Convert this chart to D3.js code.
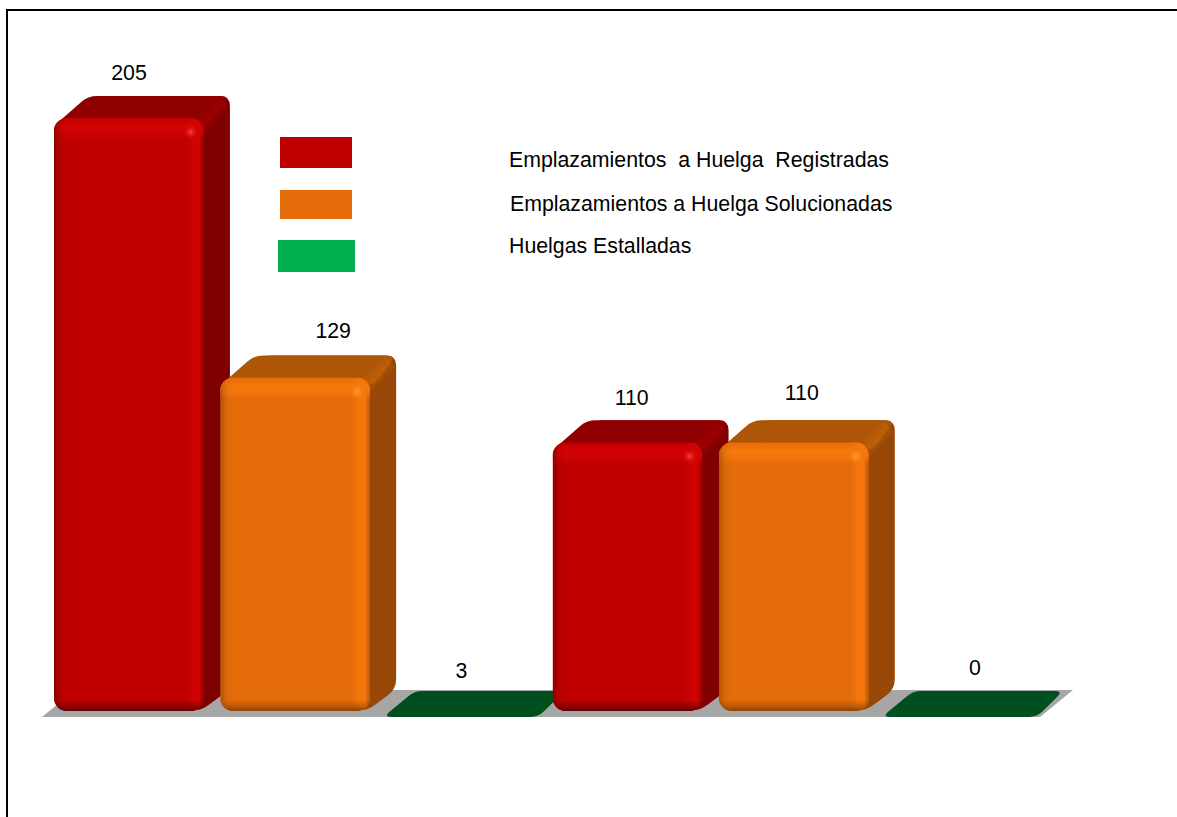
<!DOCTYPE html>
<html>
<head>
<meta charset="utf-8">
<script src="https://cdn.jsdelivr.net/npm/d3@7"></script>
<style>
  html, body { margin: 0; padding: 0; background: #fff; overflow: hidden; }
  svg { display: block; }
  text { font-family: "Liberation Sans", Arial, sans-serif; fill: #000; }
</style>
</head>
<body>
<svg id="chart" width="1177" height="817"></svg>
<script>
// Chart data
const seriesNames = [
  'Emplazamientos  a Huelga  Registradas',
  'Emplazamientos a Huelga Solucionadas',
  'Huelgas Estalladas'
];
const barSeries = [0, 1, 2, 0, 1, 2];
const barValues = [205, 129, 3, 110, 110, 0];

// Colours per series: legend/front, side, top, highlight, bottom edge
const frontColors = ['#c00000', '#e46c0a', '#00b050'];
const sideColors = ['#7f0000', '#974706', '#00501f'];
const topColors = ['#900000', '#ae5607', '#00501f'];
const lightColors = ['#d20303', '#f7780c', '#00b050'];
const darkColors = ['#5c0000', '#8a4305', '#00501f'];

// The labels were moved by hand in the original
const labelNudgeX = [0, 38, 0, 4, 8, 15];
const labelNudgeY = [-22, -23, 0, -21, -26, 0];

const width = 1177, height = 817;
const depthX = 26, depthY = 22;
const floorFront = 717, floorBack = 690;
const barBottom = 711;

const svg = d3.select('#chart');
const defs = svg.append('defs');

// The value axis of the original does not start at zero, small bars flatten out
const x = d3.scaleBand().domain(d3.range(barValues.length)).range([54, 1035]).paddingInner(0.098);
const y = d3.scaleLinear().domain([31.3, 205]).range([barBottom, 118]).clamp(true);

// Frame, open on the right and at the bottom
svg.append('path')
  .attr('d', `M7,${height}V10H${width}`)
  .attr('fill', 'none')
  .attr('stroke', '#000')
  .attr('stroke-width', 2);

// Gradients for the bevels of each series
frontColors.forEach((c, i) => {
  const grad = (id, x2, y2, stops) => {
    const g = defs.append('linearGradient').attr('id', id + i)
      .attr('x1', 0).attr('y1', 0).attr('x2', x2).attr('y2', y2);
    stops.forEach(s => g.append('stop').attr('offset', s[0]).attr('stop-color', s[1]).attr('stop-opacity', s[2]));
  };
  grad('bevelTop', 0, 1, [[0, lightColors[i], 0], [0.4, lightColors[i], 1], [0.65, lightColors[i], 0.8], [1, lightColors[i], 0]]);
  grad('bevelLeft', 1, 0, [[0, darkColors[i], 0.55], [0.5, darkColors[i], 0.12], [1, darkColors[i], 0]]);
  grad('bevelBottom', 0, 1, [[0, darkColors[i], 0], [0.6, darkColors[i], 0.5], [1, darkColors[i], 1]]);
  grad('bevelRight', 1, 0, [[0, lightColors[i], 0], [0.45, lightColors[i], 0.9], [0.75, lightColors[i], 0.8], [1, darkColors[i], 0.35]]);
  grad('cornerSide', 1, 1, [[0, sideColors[i], 0], [0.5, lightColors[i], 0.2], [1, sideColors[i], 0]]);
  const spot = defs.append('radialGradient').attr('id', 'spot' + i);
  spot.append('stop').attr('offset', 0).attr('stop-color', i === 0 ? '#ff3c3c' : '#ffa030').attr('stop-opacity', 1);
  spot.append('stop').attr('offset', 1).attr('stop-color', lightColors[i]).attr('stop-opacity', 0);
});

// Gray floor
const floorLeft = x(0) - 12;
const floorRight = x(5) + x.bandwidth() + 5;
svg.append('path')
  .attr('d', `M${floorLeft},${floorFront}L${floorLeft + 33},${floorBack}H${floorRight + 33}L${floorRight},${floorFront}Z`)
  .attr('fill', '#a6a6a6');

function roundedPoly(pts, r) {
  // closed path through pts with corners cut by quadratic curves
  const n = pts.length;
  let d = '';
  pts.forEach((p, i) => {
    const a = pts[(i + n - 1) % n], b = pts[(i + 1) % n];
    const la = Math.hypot(a[0] - p[0], a[1] - p[1]), lb = Math.hypot(b[0] - p[0], b[1] - p[1]);
    const ra = Math.min(r, la / 2), rb = Math.min(r, lb / 2);
    const s = [p[0] + (a[0] - p[0]) * ra / la, p[1] + (a[1] - p[1]) * ra / la];
    const e = [p[0] + (b[0] - p[0]) * rb / lb, p[1] + (b[1] - p[1]) * rb / lb];
    d += (i === 0 ? 'M' : 'L') + s[0] + ',' + s[1] + 'Q' + p[0] + ',' + p[1] + ' ' + e[0] + ',' + e[1];
  });
  return d + 'Z';
}

function barHeight(v) {
  return barBottom - y(v);
}

const bars = svg.selectAll('g.bar')
  .data(barValues.map((v, i) => ({ v, i, s: barSeries[i] })))
  .enter()
  .append('g')
  .attr('class', 'bar');

bars.each(function (d) {
  const g = d3.select(this);
  const x0 = x(d.i), w = x.bandwidth(), x1 = x0 + w;
  const top = y(d.v);
  const s = d.s;

  if (barHeight(d.v) === 0) {
    // Flat bar, only a green slab lying on the floor
    g.append('path')
      .attr('d', roundedPoly([[x0 - 3, floorFront], [x0 + 28, floorBack + 1], [x1 + 28, floorBack + 1], [x1 + 2, floorFront]], 8))
      .attr('fill', sideColors[s]);
    return;
  }

  // Side and back, kept behind the front face so its round corners stay clean
  g.append('path')
    .attr('d', roundedPoly([[x0 + 40, barBottom - 4], [x0 + 40, top - depthY], [x1 + depthX, top - depthY],
      [x1 + depthX, barBottom - depthY], [x1 - 2, barBottom - 1], [x1 - 14, barBottom - 1]], 10))
    .attr('fill', sideColors[s]);

  // Top face
  g.append('path')
    .attr('d', roundedPoly([[x0, top + 8], [x0 + depthX + 8, top - depthY], [x1 + depthX, top - depthY], [x1 + 4, top + 8]], 9))
    .attr('fill', topColors[s]);

  // Lighter seam running back from the front corner
  g.append('path')
    .attr('d', `M${x1 - 8},${top + 2}L${x1 + 15},${top - depthY + 1}L${x1 + depthX - 1},${top - depthY + 12}L${x1 + 2},${top + 14}Z`)
    .attr('fill', `url(#cornerSide${s})`);

  // Front face with bevels
  const clipId = 'clip' + d.i;
  g.append('clipPath').attr('id', clipId).append('rect')
    .attr('x', x0).attr('y', top).attr('width', w).attr('height', barBottom - top).attr('rx', 13);
  const front = g.append('g').attr('clip-path', `url(#${clipId})`);
  front.append('rect').attr('x', x0).attr('y', top).attr('width', w).attr('height', barBottom - top)
    .attr('fill', frontColors[s]);
  front.append('rect').attr('x', x1 - 18).attr('y', top).attr('width', 18).attr('height', barBottom - top)
    .attr('fill', `url(#bevelRight${s})`);
  front.append('rect').attr('x', x0).attr('y', top).attr('width', w).attr('height', 22)
    .attr('fill', `url(#bevelTop${s})`);
  front.append('rect').attr('x', x0).attr('y', top).attr('width', 12).attr('height', barBottom - top)
    .attr('fill', `url(#bevelLeft${s})`);
  front.append('rect').attr('x', x0).attr('y', barBottom - 11).attr('width', w).attr('height', 11)
    .attr('fill', `url(#bevelBottom${s})`);
  front.append('circle').attr('cx', x1 - 13).attr('cy', top + 14).attr('r', 8)
    .attr('fill', `url(#spot${s})`);
});

// Value labels
svg.selectAll('text.value')
  .data(barValues)
  .enter()
  .append('text')
  .attr('class', 'value')
  .attr('x', (d, i) => x(i) + x.bandwidth() / 2 + labelNudgeX[i])
  .attr('y', (d, i) => barHeight(d) === 0 ? (i === 2 ? 678 : 675) : y(d) - depthY + labelNudgeY[i] + 6)
  .attr('text-anchor', 'middle')
  .attr('font-size', 21.3)
  .text(d => d);

// Legend, the original keys are hand placed and slightly different in size
const legendKeyX = d3.scaleOrdinal().domain([0, 1, 2]).range([280, 280, 278]);
const legendKeyY = d3.scaleOrdinal().domain([0, 1, 2]).range([137, 190, 240]);
const legendKeyW = d3.scaleOrdinal().domain([0, 1, 2]).range([72, 72, 77]);
const legendKeyH = d3.scaleOrdinal().domain([0, 1, 2]).range([31, 29, 32]);
const legendTextX = d3.scaleOrdinal().domain([0, 1, 2]).range([509, 510, 509]);
const legendTextY = d3.scaleOrdinal().domain([0, 1, 2]).range([167, 211, 253]);

svg.selectAll('rect.key')
  .data(seriesNames)
  .enter()
  .append('rect')
  .attr('class', 'key')
  .attr('x', (d, i) => legendKeyX(i))
  .attr('y', (d, i) => legendKeyY(i))
  .attr('width', (d, i) => legendKeyW(i))
  .attr('height', (d, i) => legendKeyH(i))
  .attr('fill', (d, i) => frontColors[i]);

svg.selectAll('text.key')
  .data(seriesNames)
  .enter()
  .append('text')
  .attr('class', 'key')
  .attr('x', (d, i) => legendTextX(i))
  .attr('y', (d, i) => legendTextY(i))
  .attr('font-size', 21.3)
  .style('white-space', 'pre')
  .text(d => d);
</script>
</body>
</html>
